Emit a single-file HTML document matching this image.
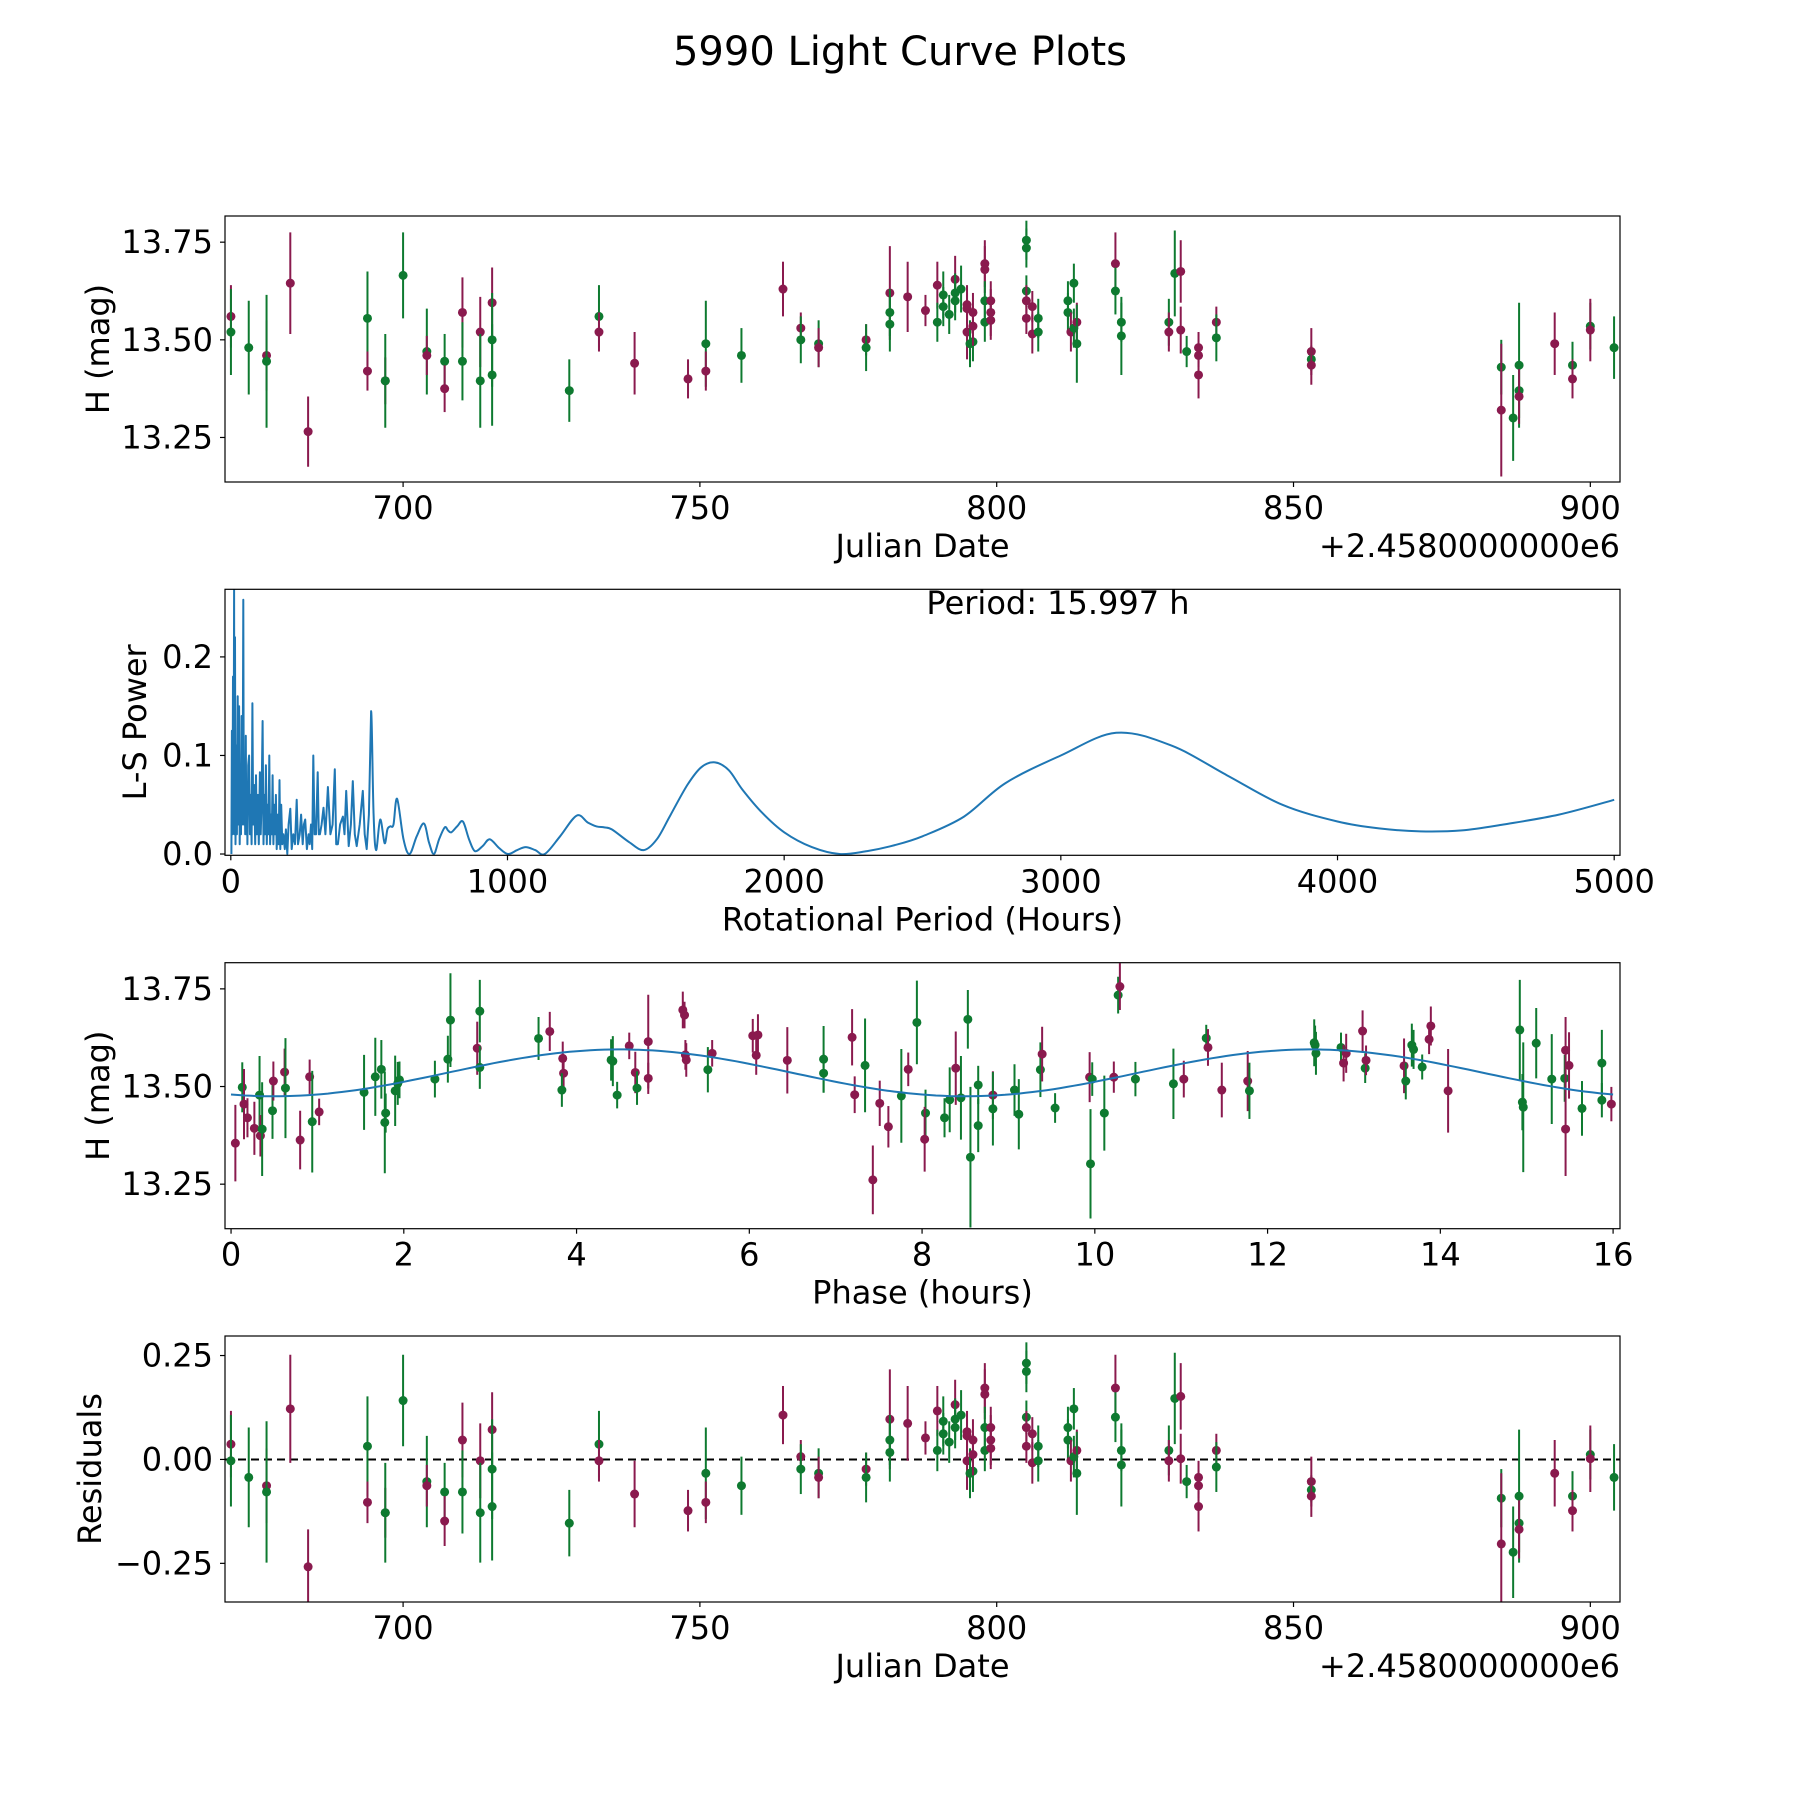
<!DOCTYPE html>
<html><head><meta charset="utf-8"><style>
html,body{margin:0;padding:0;background:#fff;}
svg{display:block;font-family:"DejaVu Sans","Liberation Sans",sans-serif;}
</style></head><body>
<svg id="fig" width="1800" height="1800" viewBox="0 0 1800 1800" xmlns="http://www.w3.org/2000/svg">
<rect width="1800" height="1800" fill="#fff"/>
<text x="900" y="52" font-size="40" text-anchor="middle" dominant-baseline="central">5990 Light Curve Plots</text>
</svg>
<script>
// ---------- data ----------
const obsDates = [671,671,674,677,677,681,684,694,694,697,697,700,704,704,707,707,710,710,713,713,715,715,715,728,733,733,739,748,751,751,757,764,767,767,770,770,778,778,782,782,782,785,788,790,790,791,791,792,793,793,793,794,795,795,795,795.5,796,796,796,798,798,798,798,799,799,799,805,805,805,805,805,806,806,807,807,812,812,812.5,813,813,813.5,813.5,820,820,821,821,829,829,830,831,831,832,834,834,834,837,837,853,853,853,885,885,887,888,888,888,894,897,897,900,900,904];
const obsMags = [13.56,13.52,13.48,13.46,13.445,13.645,13.265,13.555,13.42,13.395,13.395,13.665,13.47,13.46,13.445,13.375,13.57,13.445,13.52,13.395,13.595,13.50,13.41,13.37,13.56,13.52,13.44,13.40,13.49,13.42,13.46,13.63,13.53,13.50,13.49,13.48,13.50,13.48,13.62,13.57,13.54,13.61,13.575,13.64,13.545,13.615,13.585,13.565,13.655,13.62,13.60,13.63,13.58,13.52,13.59,13.49,13.57,13.495,13.535,13.695,13.68,13.60,13.545,13.57,13.60,13.55,13.755,13.735,13.625,13.60,13.555,13.585,13.515,13.555,13.52,13.60,13.57,13.52,13.645,13.53,13.545,13.49,13.695,13.625,13.545,13.51,13.545,13.52,13.67,13.675,13.525,13.47,13.48,13.46,13.41,13.545,13.505,13.47,13.45,13.435,13.43,13.32,13.30,13.435,13.37,13.355,13.49,13.435,13.40,13.535,13.525,13.48];
const obsErrs = [0.08,0.11,0.12,0.09,0.17,0.13,0.09,0.12,0.05,0.06,0.12,0.11,0.11,0.05,0.07,0.06,0.09,0.1,0.09,0.12,0.09,0.12,0.13,0.08,0.08,0.05,0.08,0.05,0.11,0.05,0.07,0.07,0.04,0.06,0.06,0.05,0.04,0.06,0.12,0.06,0.07,0.09,0.04,0.06,0.05,0.06,0.05,0.05,0.06,0.05,0.05,0.06,0.04,0.07,0.05,0.06,0.05,0.05,0.05,0.06,0.06,0.05,0.05,0.06,0.05,0.05,0.05,0.05,0.04,0.04,0.04,0.04,0.05,0.05,0.05,0.05,0.05,0.05,0.05,0.05,0.05,0.1,0.08,0.06,0.05,0.1,0.06,0.05,0.11,0.08,0.06,0.04,0.04,0.03,0.06,0.04,0.06,0.06,0.03,0.05,0.07,0.17,0.11,0.16,0.07,0.07,0.08,0.06,0.05,0.06,0.08,0.08];
const obsBand = "mggmgmmgmmgggmgmmgmgmggggmmmgmgmmggmmgmggmmmggggmgggmmmgmgmmmggmmmgggmmmmggggmggmgmggggmgmmgmmmmgmgmgmgggmmgmgmg";

const phasePhases = [0.05,0.13,0.15,0.19,0.27,0.33,0.34,0.36,0.48,0.49,0.62,0.63,0.80,0.91,0.94,1.02,1.54,1.67,1.74,1.79,1.78,1.90,1.93,1.95,2.36,2.51,2.54,2.85,2.88,2.88,3.56,3.69,3.84,3.85,3.83,4.40,4.42,4.47,4.61,4.68,4.70,4.83,4.83,5.23,5.25,5.26,5.27,5.52,5.57,
 6.04,6.10,6.08,6.44,6.86,6.86,7.19,7.22,7.34,7.43,7.51,7.61,7.76,7.84,7.94,8.04,8.03,8.26,8.32,8.39,8.45,8.53,8.56,8.65,8.65,8.82,8.82,9.07,9.12,9.37,9.39,9.54,9.95,9.94,9.97,10.11,10.22,10.27,10.29,10.47,10.91,11.03,
 11.29,11.31,11.47,11.77,11.79,12.54,12.56,12.55,12.85,12.88,12.91,13.10,13.13,13.14,13.58,13.60,13.67,13.69,13.79,13.87,13.89,14.09,14.92,14.95,14.96,15.11,15.29,15.44,15.45,15.45,15.49,15.64,15.87,15.87,15.98];
const phaseMags = [13.355,13.498,13.455,13.42,13.393,13.478,13.374,13.391,13.438,13.514,13.537,13.496,13.363,13.525,13.41,13.435,13.485,13.525,13.544,13.432,13.408,13.489,13.508,13.517,13.519,13.57,13.67,13.598,13.549,13.693,13.623,13.641,13.572,13.534,13.491,13.568,13.565,13.478,13.604,13.536,13.496,13.615,13.521,13.696,13.683,13.581,13.568,13.543,13.585,
 13.63,13.632,13.58,13.567,13.57,13.534,13.626,13.479,13.554,13.261,13.457,13.397,13.476,13.544,13.664,13.432,13.365,13.42,13.466,13.547,13.471,13.672,13.319,13.4,13.504,13.478,13.443,13.491,13.429,13.543,13.583,13.445,13.302,13.524,13.519,13.432,13.524,13.734,13.756,13.519,13.507,13.519,
 13.624,13.60,13.491,13.514,13.489,13.612,13.585,13.606,13.60,13.56,13.585,13.642,13.547,13.567,13.553,13.514,13.606,13.595,13.55,13.621,13.655,13.489,13.645,13.46,13.447,13.611,13.519,13.521,13.593,13.391,13.554,13.444,13.56,13.465,13.455];
const phaseErrs = [0.098,0.064,0.09,0.05,0.068,0.1,0.053,0.12,0.072,0.05,0.06,0.128,0.075,0.044,0.13,0.034,0.096,0.1,0.075,0.05,0.13,0.09,0.055,0.047,0.047,0.06,0.12,0.068,0.055,0.08,0.055,0.05,0.043,0.038,0.043,0.053,0.064,0.034,0.034,0.053,0.043,0.12,0.04,0.047,0.034,0.038,0.043,0.058,0.034,
 0.043,0.053,0.05,0.085,0.085,0.05,0.072,0.047,0.12,0.088,0.058,0.053,0.12,0.043,0.107,0.06,0.083,0.05,0.083,0.094,0.107,0.075,0.18,0.068,0.049,0.061,0.094,0.066,0.09,0.07,0.07,0.038,0.14,0.064,0.043,0.096,0.04,0.047,0.06,0.044,0.09,0.047,
 0.034,0.047,0.07,0.077,0.072,0.06,0.055,0.05,0.038,0.047,0.05,0.053,0.038,0.038,0.07,0.047,0.055,0.05,0.032,0.038,0.05,0.107,0.128,0.072,0.166,0.09,0.115,0.06,0.085,0.12,0.085,0.07,0.085,0.044,0.044];
const phaseBand = "mgmmmgmggmmgmmgmgggggggggggmgggmmmggggmmgmmmmmmgm"+"mmmmggmmgmmmgmggmggmgggggmggggmggmggmgmggmgm"+"mmgggggmmmgmmggggmmmggggggmmmgggmmmm";

const lsPeriods = [2,4,6,8,10,12,13,15,17,20,
 22,25,27,30,32,35,37,39,41,43,
 45,47,50,52,54,56,58,60,63,66,
 69,72,75,78,81,84,88,91,94,98,
 101,105,108,111,115,118,121,124,127,130,
 133,136,139,142,145,148,151,154,157,160,
 163,166,170,173,176,179,182,186,190,195,
 199,204,209,215,220,226,232,238,243,249,
 254,260,264,269,275,281,285,290,294,298,
 303,308,314,318,322,328,335,342,351,360,
 368,376,381,387,395,405,411,417,426,434,
 441,448,455,466,477,484,491,499,507,516,
 525,540,556,566,576,588,601,624,646,672,
 698,716,734,753,773,785,797,818,839,861,
 882,910,936,970,1002,1035,1066,1100,1135,1190,
 1250,1290,1322,1350,1377,1440,1492,1540,1588,1650,
 1700,1750,1800,1850,1920,2000,2100,2200,2300,2400,
 2500,2650,2800,3000,3200,3400,3600,3800,4000,4150,
 4300,4450,4600,4800,5000];
const lsPower = [0,0.125,0.02,0.18,0.03,0.27,0.02,0.22,0.01,0.11,
 0.02,0.16,0.03,0.15,0.01,0.09,0.02,0.14,0.03,0.07,
 0.258,0.03,0.08,0.02,0.12,0.02,0.07,0.01,0.09,0.10,
 0.02,0.06,0.01,0.153,0.03,0.07,0.01,0.08,0.02,0.06,
 0.01,0.083,0.02,0.05,0.135,0.01,0.06,0.02,0.09,0.01,
 0.05,0.02,0.10,0.01,0.04,0.02,0.08,0.01,0.05,0.02,
 0.06,0.005,0.04,0.01,0.075,0.005,0.05,0.01,0.02,0.005,
 0.025,0.0,0.03,0.046,0.005,0.02,0.01,0.055,0.01,0.02,
 0.04,0.01,0.03,0.035,0.005,0.02,0.01,0.03,0.005,0.10,
 0.02,0.02,0.083,0.02,0.02,0.03,0.047,0.02,0.068,0.02,
 0.03,0.086,0.01,0.01,0.03,0.038,0.02,0.064,0.008,0.03,
 0.074,0.02,0.008,0.03,0.064,0.02,0.005,0.04,0.145,0.04,
 0.004,0.035,0.011,0.025,0.028,0.03,0.056,0.015,0.0,0.018,
 0.031,0.012,0.0,0.015,0.027,0.024,0.022,0.028,0.033,0.015,
 0.003,0.008,0.015,0.006,0.0,0.004,0.007,0.004,0.0,0.018,
 0.039,0.032,0.028,0.027,0.025,0.012,0.004,0.015,0.039,0.07,
 0.088,0.093,0.085,0.065,0.042,0.022,0.007,0.0,0.003,0.009,
 0.018,0.038,0.072,0.1,0.123,0.11,0.08,0.05,0.033,0.026,
 0.023,0.024,0.03,0.04,0.055];
const period = [15.997];
const modelMean = [13.535];
const modelAmp = [0.06];
const modelPhase0 = [2.5];
const xTicksJD = [700,750,800,850,900];
const yTicksMag = [13.25,13.5,13.75];
const xTicksLS = [0,1000,2000,3000,4000,5000];
const yTicksLS = [0,0.1,0.2];
const xTicksPh = [0,2,4,6,8,10,12,14,16];
const yTicksRes = [-0.25,0,0.25];
</script>
<script>
const NS="http://www.w3.org/2000/svg";
const svg=document.getElementById('fig');
const COL={m:'#8a1a4e',g:'#0e7a30'};
const L=225,R=1620,H=266,TOPS=[216,589.3,962.7,1336];
function mk(tag,attrs,parent){const e=document.createElementNS(NS,tag);for(const k in attrs)e.setAttribute(k,attrs[k]);(parent||svg).appendChild(e);return e;}
function scale(d0,d1,r0,r1){return v=>r0+(v-d0)*(r1-r0)/(d1-d0);}
function model(p){return modelMean[0]+modelAmp[0]*Math.sin(2*Math.PI*2*(p-modelPhase0[0])/16);}
function fmt(v,d){let s=v.toFixed(d);if(v<0)s='\u2212'+s.slice(1);return s;}

function axes(i,xr,yr,xt,yt,xd,yd,xlabel,ylabel,ylx,name){
  const top=TOPS[i],bot=top+H;
  const g=mk('g',{});
  
  
  const sx=scale(xr[0],xr[1],L,R),sy=scale(yr[0],yr[1],bot,top);
  const clip=mk('clipPath',{id:'c'+i},g);mk('rect',{x:L,y:top,width:R-L,height:H},clip);
  const plot=mk('g',{'clip-path':'url(#c'+i+')'},g);
  
  
  const frame=mk('rect',{x:L,y:top,width:R-L,height:H,fill:'none',stroke:'#000','stroke-width':1.2},g);
  
  
  xt.forEach(v=>{const x=sx(v);mk('line',{x1:x,x2:x,y1:bot,y2:bot+5,stroke:'#000','stroke-width':1.2},g);
    const t=mk('text',{x:x,y:bot+26,'font-size':32,'text-anchor':'middle','dominant-baseline':'central'},g);t.textContent=fmt(v,xd);
    
    });
  yt.forEach(v=>{const y=sy(v);mk('line',{x1:L-5,x2:L,y1:y,y2:y,stroke:'#000','stroke-width':1.2},g);
    const t=mk('text',{x:L-12,y:y,'font-size':32,'text-anchor':'end','dominant-baseline':'central'},g);t.textContent=fmt(v,yd);
    
    });
  const xl=mk('text',{x:(L+R)/2,y:bot+64,'font-size':32,'text-anchor':'middle','dominant-baseline':'central'},g);xl.textContent=xlabel;
  
  
  const yl=mk('text',{x:ylx,y:(top+bot)/2,'font-size':32,'text-anchor':'middle','dominant-baseline':'central',transform:`rotate(-90 ${ylx} ${(top+bot)/2})`},g);yl.textContent=ylabel;
  
  
  return {sx,sy,plot,g,top,bot};
}
function errPoint(a,x,y,e,c){
  const ln=mk('line',{x1:a.sx(x),x2:a.sx(x),y1:a.sy(y-e),y2:a.sy(y+e),stroke:c,'stroke-width':2},a.plot);
  
  
  const pt=mk('circle',{cx:a.sx(x),cy:a.sy(y),r:4.5,fill:c},a.plot);
  
  
}
function offset(a){const t=mk('text',{x:R,y:a.bot+64,'font-size':32,'text-anchor':'end','dominant-baseline':'central'},a.g);t.textContent='+2.4580000000e6';
  
  }

// Panel 1
const a1=axes(0,[670,905],[13.136,13.817],xTicksJD,yTicksMag,0,2,'Julian Date','H (mag)',98,'light-curve-panel');
offset(a1);
obsDates.forEach((d,i)=>errPoint(a1,d,obsMags[i],obsErrs[i],COL[obsBand[i]]));

// Panel 2
const a2=axes(1,[-21,5021],[-0.0013,0.2686],xTicksLS,yTicksLS,0,1,'Rotational Period (Hours)','L-S Power',135,'periodogram-panel');
const P=lsPeriods.map((p,i)=>[a2.sx(p),a2.sy(lsPower[i])]);
let pd='M'+P[0][0].toFixed(1)+','+P[0][1].toFixed(1);
for(let i=0;i<P.length-1;i++){
  if(lsPeriods[i]<500){pd+='L'+P[i+1][0].toFixed(1)+','+P[i+1][1].toFixed(1);continue;}
  const p0=P[Math.max(i-1,0)],p1=P[i],p2=P[i+1],p3=P[Math.min(i+2,P.length-1)];
  const c1=[p1[0]+(p2[0]-p0[0])/6,p1[1]+(p2[1]-p0[1])/6],c2=[p2[0]-(p3[0]-p1[0])/6,p2[1]-(p3[1]-p1[1])/6];
  pd+=`C${c1[0].toFixed(1)},${c1[1].toFixed(1)} ${c2[0].toFixed(1)},${c2[1].toFixed(1)} ${p2[0].toFixed(1)},${p2[1].toFixed(1)}`;
}
const ls=mk('path',{d:pd,fill:'none',stroke:'#1f77b4','stroke-width':2,'stroke-linejoin':'round'},a2.plot);


const pt=mk('text',{x:1058,y:603,'font-size':32,'text-anchor':'middle','dominant-baseline':'central'},a2.g);
pt.textContent='Period: '+period[0].toFixed(3)+' h';



// Panel 3
const a3=axes(2,[-0.07,16.08],[13.136,13.817],xTicksPh,yTicksMag,0,2,'Phase (hours)','H (mag)',98,'phased-curve-panel');
phasePhases.forEach((p,i)=>errPoint(a3,p,phaseMags[i],phaseErrs[i],COL[phaseBand[i]]));
let md='';for(let k=0;k<=200;k++){const p=16*k/200;md+=(k?'L':'M')+a3.sx(p).toFixed(1)+','+a3.sy(model(p)).toFixed(1);}
const ml=mk('path',{d:md,fill:'none',stroke:'#1f77b4','stroke-width':2},a3.plot);



// Panel 4
const a4=axes(3,[670,905],[-0.343,0.297],xTicksJD,yTicksRes,0,2,'Julian Date','Residuals',90,'residuals-panel');
offset(a4);
const zl=mk('line',{x1:L,x2:R,y1:a4.sy(0),y2:a4.sy(0),stroke:'#000','stroke-width':2,'stroke-dasharray':'8,5'},a4.plot);


const magMean=obsMags.reduce((s,v)=>s+v,0)/obsMags.length;
obsDates.forEach((d,i)=>errPoint(a4,d,obsMags[i]-magMean,obsErrs[i],COL[obsBand[i]]));
</script>
</body></html>
